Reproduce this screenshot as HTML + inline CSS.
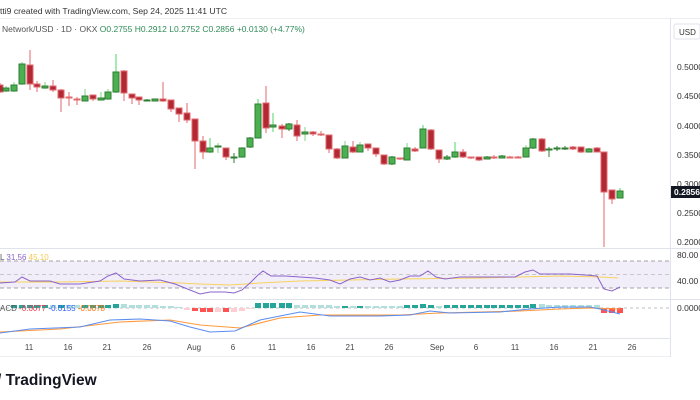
<!DOCTYPE html>
<html><head><meta charset="utf-8"><style>
html,body{margin:0;padding:0;background:#fff;}
svg{display:block;font-family:"Liberation Sans",sans-serif;}
</style></head><body>
<svg width="700" height="400" viewBox="0 0 700 400" xmlns="http://www.w3.org/2000/svg">
<rect width="700" height="400" fill="#fff"/>
<text x="0" y="14" font-size="8.6" fill="#333">tti9 created with TradingView.com, Sep 24, 2025 11:41 UTC</text>
<line x1="0" y1="18.5" x2="700" y2="18.5" stroke="#eceef2"/>
<text x="2" y="32" font-size="8.5" fill="#555">Network/USD · 1D · OKX <tspan fill="#2e8b57">O0.2755  H0.2912  L0.2752  C0.2856  +0.0130 (+4.77%)</tspan></text>
<line x1="670.5" y1="18" x2="670.5" y2="357" stroke="#e0e3eb"/>
<rect x="674" y="24" width="26" height="15" rx="2" fill="#fff" stroke="#e0e3eb"/>
<text x="679" y="35" font-size="8" fill="#333">USD</text>
<g font-size="8.5" fill="#333">
<text x="677" y="70">0.5000</text><text x="677" y="99">0.4500</text><text x="677" y="129">0.4000</text><text x="677" y="158">0.3500</text><text x="677" y="187">0.3000</text><text x="677" y="216">0.2500</text><text x="677" y="245">0.2000</text>
<text x="677" y="258">80.00</text><text x="677" y="284">40.00</text><text x="677" y="311">0.0000</text>
</g>
<rect x="671" y="186" width="29" height="12" fill="#131722"/>
<text x="674" y="195" font-size="8.5" fill="#fff" font-weight="bold">0.2856</text>
<line x1="0" y1="248.5" x2="700" y2="248.5" stroke="#e0e3eb"/>
<line x1="0" y1="299.5" x2="700" y2="299.5" stroke="#e0e3eb"/>
<line x1="0" y1="338.5" x2="670" y2="338.5" stroke="#e0e3eb"/>
<line x1="0" y1="356.5" x2="670" y2="356.5" stroke="#eceef2"/>
<rect x="0" y="261" width="670" height="27" fill="#7e57c2" fill-opacity="0.1"/>
<line x1="0" y1="261" x2="670" y2="261" stroke="#888" stroke-dasharray="4,3" stroke-width="0.8"/>
<line x1="0" y1="274.5" x2="670" y2="274.5" stroke="#bbb" stroke-dasharray="4,3" stroke-width="0.8"/>
<line x1="0" y1="288" x2="670" y2="288" stroke="#888" stroke-dasharray="4,3" stroke-width="0.8"/>
<polyline fill="none" stroke="#f7d25c" stroke-width="1" points="0,282 60,282 120,281 180,283 200,284 230,285 260,283 300,281 350,280 400,279 480,278 560,276 600,277 618,278"/>
<polyline fill="none" stroke="#8a63cc" stroke-width="1" points="0,283 15,282 22,277 30,281 50,281 60,284 80,284 100,281 108,276 116,273 124,279 140,281 160,280 175,284 190,290 200,294 210,292 225,292 234,293 242,290 250,283 258,275 263,271 271,276 285,276 300,277 315,278 330,280 340,284 350,279 360,277 370,280 380,278 390,282 400,280 410,276 420,276 428,271 436,277 445,279 460,277 480,277 500,277 515,277 525,272 533,270 540,274 555,274 570,274 585,275 597,276 604,289 612,291 620,287"/>
<text x="0" y="260" font-size="8" fill="#555">L <tspan fill="#8a63cc">31.56</tspan> <tspan fill="#f2c94c">45.10</tspan></text>
<line x1="0" y1="308" x2="670" y2="308" stroke="#aaa" stroke-dasharray="3,3" stroke-width="0.8"/>
<g fill="#26a69a">
<rect x="11" y="305" width="6" height="3"/><rect x="19" y="305" width="6" height="3"/><rect x="27" y="305" width="6" height="3"/><rect x="34" y="305" width="6" height="3"/><rect x="42" y="305" width="6" height="3"/><rect x="58" y="305" width="6" height="3"/><rect x="82" y="305" width="6" height="3"/><rect x="90" y="305" width="6" height="3"/><rect x="98" y="305" width="6" height="3"/><rect x="105" y="305" width="6" height="3"/><rect x="113" y="304" width="6" height="4"/>
<rect x="255" y="303" width="6" height="5"/><rect x="263" y="303" width="6" height="5"/><rect x="270" y="303" width="6" height="5"/><rect x="279" y="303" width="6" height="5"/><rect x="286" y="303" width="6" height="5"/>
<rect x="342" y="306" width="6" height="2"/><rect x="357" y="306" width="6" height="2"/><rect x="404" y="305" width="6" height="3"/><rect x="412" y="305" width="6" height="3"/><rect x="420" y="304" width="6" height="4"/><rect x="428" y="305" width="6" height="3"/><rect x="444" y="305" width="6" height="3"/><rect x="452" y="305" width="6" height="3"/><rect x="460" y="305" width="6" height="3"/><rect x="468" y="305" width="6" height="3"/><rect x="476" y="305" width="6" height="3"/><rect x="484" y="305" width="6" height="3"/><rect x="491" y="305" width="6" height="3"/><rect x="499" y="305" width="6" height="3"/><rect x="507" y="305" width="6" height="3"/><rect x="515" y="305" width="6" height="3"/><rect x="523" y="305" width="6" height="3"/><rect x="530" y="304" width="6" height="4"/>
</g>
<g fill="#b2dfdb">
<rect x="50" y="305" width="6" height="3"/><rect x="66" y="305" width="6" height="3"/><rect x="74" y="305" width="6" height="3"/>
<rect x="121" y="304" width="6" height="4"/><rect x="129" y="305" width="6" height="3"/><rect x="136" y="305" width="6" height="3"/><rect x="144" y="305" width="6" height="3"/><rect x="152" y="305" width="6" height="3"/><rect x="160" y="306" width="6" height="2"/><rect x="168" y="306" width="6" height="2"/><rect x="176" y="307" width="6" height="1"/>
<rect x="294" y="305" width="6" height="3"/><rect x="302" y="305" width="6" height="3"/><rect x="310" y="305" width="6" height="3"/><rect x="318" y="305" width="6" height="3"/><rect x="326" y="305" width="6" height="3"/><rect x="334" y="306" width="6" height="2"/><rect x="350" y="306" width="6" height="2"/><rect x="365" y="306" width="6" height="2"/><rect x="373" y="306" width="6" height="2"/><rect x="381" y="306" width="6" height="2"/><rect x="389" y="306" width="6" height="2"/><rect x="397" y="306" width="6" height="2"/><rect x="436" y="306" width="6" height="2"/>
<rect x="539" y="304" width="6" height="4"/><rect x="546" y="305" width="6" height="3"/><rect x="554" y="305" width="6" height="3"/><rect x="562" y="305" width="6" height="3"/><rect x="570" y="305" width="6" height="3"/><rect x="578" y="305" width="6" height="3"/><rect x="586" y="305" width="6" height="3"/><rect x="594" y="305" width="6" height="3"/>
</g>
<g fill="#ff5252">
<rect x="192" y="308" width="6" height="3"/><rect x="200" y="308" width="6" height="4"/><rect x="207" y="308" width="6" height="4"/><rect x="223" y="308" width="6" height="4"/>
<rect x="601" y="308" width="6" height="5"/><rect x="609" y="308" width="6" height="5"/><rect x="617" y="308" width="6" height="5"/>
</g>
<g fill="#ffcdd2">
<rect x="184" y="308" width="6" height="2"/><rect x="215" y="308" width="6" height="4"/><rect x="231" y="308" width="6" height="4"/><rect x="239" y="308" width="6" height="3"/><rect x="247" y="308" width="6" height="1"/>
</g>
<polyline fill="none" stroke="#ff9a3c" stroke-width="1.1" points="0,332 60,329 120,322 170,320 200,325 240,328 280,318 320,315 400,315 440,313 520,311 560,309 590,308 620,309"/>
<polyline fill="none" stroke="#5b8def" stroke-width="1.1" points="0,333 30,329 80,327 110,320 140,319 170,321 190,327 210,332 235,331 260,320 300,312 330,316 380,316 410,315 430,311 450,313 500,312 530,309 560,307 590,307 600,309 620,314"/>
<text x="0" y="311" font-size="8" fill="#555">ACD <tspan fill="#f23645">-0.0077</tspan> <tspan fill="#2962ff">-0.0155</tspan> <tspan fill="#ff6d00">-0.0078</tspan></text>
<g font-size="8" fill="#444" text-anchor="middle">
<text x="29" y="350">11</text><text x="68" y="350">16</text><text x="107" y="350">21</text><text x="147" y="350">26</text><text x="194" y="350">Aug</text><text x="233" y="350">6</text><text x="272" y="350">11</text><text x="311" y="350">16</text><text x="350" y="350">21</text><text x="389" y="350">26</text><text x="437" y="350">Sep</text><text x="476" y="350">6</text><text x="515" y="350">11</text><text x="554" y="350">16</text><text x="593" y="350">21</text><text x="632" y="350">26</text>
</g>
<text x="-3" y="385" font-size="15.5" font-weight="bold" fill="#131722">/ TradingView</text>
<g stroke-width="1">
<g stroke="#e0696f" fill="#b22833">
<line x1="0" y1="83" x2="0" y2="93"/><rect x="-3" y="85" width="6" height="7"/>
<line x1="30" y1="50" x2="30" y2="90"/><rect x="27" y="65" width="6" height="19"/>
<line x1="37" y1="81" x2="37" y2="92"/><rect x="34" y="84" width="6" height="3"/>
<line x1="53" y1="80" x2="53" y2="92"/><rect x="50" y="86" width="6" height="4"/>
<line x1="61" y1="89" x2="61" y2="112"/><rect x="58" y="90" width="6" height="8"/>
<line x1="69" y1="92" x2="69" y2="106"/><rect x="66" y="97" width="6" height="1"/>
<line x1="77" y1="97" x2="77" y2="105"/><rect x="74" y="99" width="6" height="1"/>
<line x1="93" y1="95" x2="93" y2="101"/><rect x="90" y="95" width="6" height="4"/>
<line x1="124" y1="70" x2="124" y2="101"/><rect x="121" y="71" width="6" height="22"/>
<line x1="132" y1="94" x2="132" y2="104"/><rect x="129" y="94" width="6" height="4"/>
<line x1="139" y1="97" x2="139" y2="105"/><rect x="136" y="97" width="6" height="3"/>
<line x1="163" y1="82" x2="163" y2="102"/><rect x="160" y="99" width="6" height="2"/>
<line x1="171" y1="100" x2="171" y2="112"/><rect x="168" y="100" width="6" height="9"/>
<line x1="179" y1="108" x2="179" y2="122"/><rect x="176" y="108" width="6" height="6"/>
<line x1="187" y1="103" x2="187" y2="123"/><rect x="184" y="113" width="6" height="7"/>
<line x1="195" y1="119" x2="195" y2="169"/><rect x="192" y="119" width="6" height="22"/>
<line x1="203" y1="136" x2="203" y2="159"/><rect x="200" y="141" width="6" height="11"/>
<line x1="226" y1="148" x2="226" y2="160"/><rect x="223" y="148" width="6" height="9"/>
<line x1="266" y1="86" x2="266" y2="133"/><rect x="263" y="103" width="6" height="25"/>
<line x1="282" y1="124" x2="282" y2="138"/><rect x="279" y="126" width="6" height="3"/>
<line x1="297" y1="120" x2="297" y2="141"/><rect x="294" y="125" width="6" height="11"/>
<line x1="313" y1="131" x2="313" y2="136"/><rect x="310" y="132" width="6" height="2"/>
<line x1="321" y1="131" x2="321" y2="136"/><rect x="318" y="134" width="6" height="1"/>
<line x1="329" y1="135" x2="329" y2="153"/><rect x="326" y="135" width="6" height="14"/>
<line x1="337" y1="148" x2="337" y2="159"/><rect x="334" y="149" width="6" height="9"/>
<line x1="353" y1="141" x2="353" y2="153"/><rect x="350" y="147" width="6" height="5"/>
<line x1="368" y1="144" x2="368" y2="151"/><rect x="365" y="144" width="6" height="4"/>
<line x1="376" y1="148" x2="376" y2="157"/><rect x="373" y="148" width="6" height="6"/>
<line x1="384" y1="155" x2="384" y2="165"/><rect x="381" y="155" width="6" height="9"/>
<line x1="400" y1="158" x2="400" y2="160"/><rect x="397" y="158" width="6" height="1"/>
<line x1="415" y1="147" x2="415" y2="152"/><rect x="412" y="149" width="6" height="2"/>
<line x1="431" y1="129" x2="431" y2="150"/><rect x="428" y="130" width="6" height="19"/>
<line x1="439" y1="150" x2="439" y2="163"/><rect x="436" y="150" width="6" height="9"/>
<line x1="463" y1="149" x2="463" y2="158"/><rect x="460" y="152" width="6" height="5"/>
<line x1="471" y1="157" x2="471" y2="159"/><rect x="468" y="157" width="6" height="1"/>
<line x1="479" y1="157" x2="479" y2="161"/><rect x="476" y="157" width="6" height="3"/>
<line x1="494" y1="155" x2="494" y2="159"/><rect x="491" y="157" width="6" height="1"/>
<line x1="510" y1="156" x2="510" y2="158"/><rect x="507" y="157" width="6" height="1"/>
<line x1="518" y1="156" x2="518" y2="158"/><rect x="515" y="157" width="6" height="1"/>
<line x1="542" y1="138" x2="542" y2="152"/><rect x="539" y="139" width="6" height="12"/>
<line x1="573" y1="146" x2="573" y2="150"/><rect x="570" y="147" width="6" height="2"/>
<line x1="581" y1="147" x2="581" y2="153"/><rect x="578" y="147" width="6" height="5"/>
<line x1="597" y1="147" x2="597" y2="152"/><rect x="594" y="148" width="6" height="4"/>
<line x1="604" y1="152" x2="604" y2="247"/><rect x="601" y="152" width="6" height="40"/>
<line x1="612" y1="190" x2="612" y2="204"/><rect x="609" y="190" width="6" height="9"/>
</g>
<g stroke="#2e7d32" fill="#4caf50">
<line x1="6" y1="86" x2="6" y2="92" stroke="#7bd67f"/><rect x="3" y="88" width="6" height="3"/>
<line x1="14" y1="82" x2="14" y2="92" stroke="#7bd67f"/><rect x="11" y="85" width="6" height="6"/>
<line x1="22" y1="62" x2="22" y2="85" stroke="#7bd67f"/><rect x="19" y="64" width="6" height="20"/>
<line x1="45" y1="82" x2="45" y2="89" stroke="#7bd67f"/><rect x="42" y="86" width="6" height="2"/>
<line x1="85" y1="89" x2="85" y2="101" stroke="#7bd67f"/><rect x="82" y="96" width="6" height="5"/>
<line x1="101" y1="92" x2="101" y2="100" stroke="#7bd67f"/><rect x="98" y="98" width="6" height="2"/>
<line x1="108" y1="89" x2="108" y2="100" stroke="#7bd67f"/><rect x="105" y="92" width="6" height="7"/>
<line x1="116" y1="54" x2="116" y2="93" stroke="#4cd964"/><rect x="113" y="72" width="6" height="20"/>
<line x1="147" y1="99" x2="147" y2="101"/><rect x="144" y="100" width="6" height="1"/>
<line x1="155" y1="99" x2="155" y2="101"/><rect x="152" y="99" width="6" height="2"/>
<line x1="210" y1="138" x2="210" y2="153" stroke="#4cd964"/><rect x="207" y="148" width="6" height="4"/>
<line x1="218" y1="143" x2="218" y2="153" stroke="#7bd67f"/><rect x="215" y="146" width="6" height="1"/>
<line x1="234" y1="153" x2="234" y2="163"/><rect x="231" y="157" width="6" height="1"/>
<line x1="242" y1="147" x2="242" y2="158" stroke="#7bd67f"/><rect x="239" y="148" width="6" height="9"/>
<line x1="250" y1="137" x2="250" y2="148"/><rect x="247" y="138" width="6" height="9"/>
<line x1="258" y1="99" x2="258" y2="138" stroke="#4cd964"/><rect x="255" y="104" width="6" height="34"/>
<line x1="273" y1="113" x2="273" y2="132" stroke="#4cd964"/><rect x="270" y="125" width="6" height="2"/>
<line x1="289" y1="123" x2="289" y2="131"/><rect x="286" y="124" width="6" height="5"/>
<line x1="305" y1="127" x2="305" y2="141" stroke="#7bd67f"/><rect x="302" y="132" width="6" height="2"/>
<line x1="345" y1="141" x2="345" y2="158" stroke="#7bd67f"/><rect x="342" y="146" width="6" height="12"/>
<line x1="360" y1="142" x2="360" y2="152" stroke="#7bd67f"/><rect x="357" y="145" width="6" height="7"/>
<line x1="392" y1="156" x2="392" y2="165"/><rect x="389" y="157" width="6" height="7"/>
<line x1="407" y1="143" x2="407" y2="160" stroke="#7bd67f"/><rect x="404" y="148" width="6" height="12"/>
<line x1="423" y1="125" x2="423" y2="148" stroke="#4cd964"/><rect x="420" y="129" width="6" height="19"/>
<line x1="447" y1="155" x2="447" y2="160"/><rect x="444" y="157" width="6" height="2"/>
<line x1="455" y1="142" x2="455" y2="158" stroke="#4cd964"/><rect x="452" y="152" width="6" height="5"/>
<line x1="487" y1="156" x2="487" y2="159"/><rect x="484" y="157" width="6" height="2"/>
<line x1="502" y1="155" x2="502" y2="158"/><rect x="499" y="156" width="6" height="2"/>
<line x1="526" y1="145" x2="526" y2="157" stroke="#7bd67f"/><rect x="523" y="148" width="6" height="9"/>
<line x1="533" y1="138" x2="533" y2="149"/><rect x="530" y="139" width="6" height="9"/>
<line x1="549" y1="147" x2="549" y2="157"/><rect x="546" y="149" width="6" height="1"/>
<line x1="557" y1="146" x2="557" y2="151"/><rect x="554" y="148" width="6" height="1"/>
<line x1="565" y1="146" x2="565" y2="150"/><rect x="562" y="148" width="6" height="1"/>
<line x1="589" y1="148" x2="589" y2="152"/><rect x="586" y="149" width="6" height="3"/>
<line x1="620" y1="188" x2="620" y2="198" stroke="#4cd964"/><rect x="617" y="191" width="6" height="7"/>
</g>
</g>
</svg>
</body></html>
